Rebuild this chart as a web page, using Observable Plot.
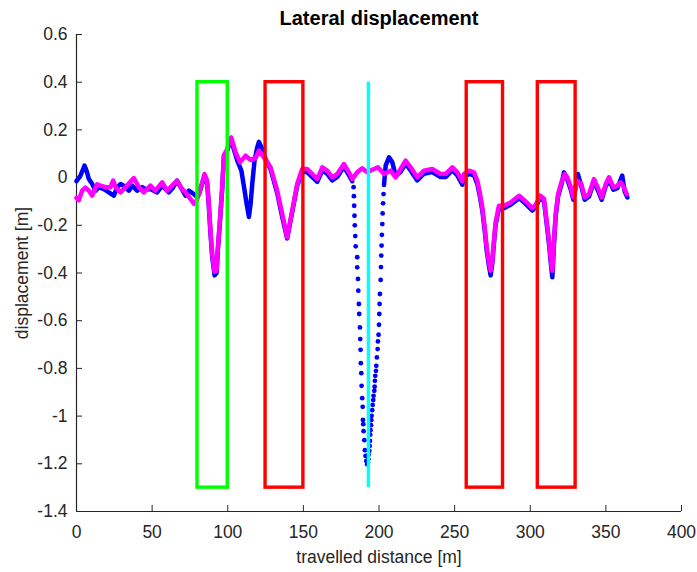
<!DOCTYPE html>
<html><head><meta charset="utf-8">
<script src="https://cdn.jsdelivr.net/npm/d3@7"></script>
<script src="https://cdn.jsdelivr.net/npm/@observablehq/plot@0.6"></script>
<style>body{margin:0;background:#fff}</style>
</head><body><div id="chart"></div>
<script>
const titleText = "Lateral displacement";
const xLabel = "travelled distance [m]";
const yLabel = "displacement [m]";
const xTicks = [0, 50, 100, 150, 200, 250, 300, 350, 400];
const yTicks = [-1.4, -1.2, -1, -0.8, -0.6, -0.4, -0.2, 0, 0.2, 0.4, 0.6];
const yTickLabels = ["-1.4", "-1.2", "-1", "-0.8", "-0.6", "-0.4", "-0.2", "0", "0.2", "0.4", "0.6"];

// magenta series (dense trace)
const magenta = [
  [0,-0.085],[1.5,-0.095],[3.7,-0.055],[5.9,-0.042],[8.2,-0.055],[10.4,-0.076],[12.6,-0.042],[13.7,-0.028],
  [15.9,-0.034],[19.2,-0.040],[22.5,-0.040],[24.3,-0.012],[25.8,-0.040],[29.1,-0.062],[32.4,-0.040],[35.3,-0.020],
  [37.9,-0.002],[41.2,-0.040],[44.5,-0.062],[48.9,-0.034],[52.2,-0.055],[56.6,-0.020],[59.9,-0.055],[63.2,-0.034],
  [66.5,-0.013],[68.7,-0.040],[72.1,-0.062],[75.4,-0.090],[77.6,-0.110],[79.5,-0.095],[80.9,-0.069],[84.6,0.015],
  [86.4,-0.013],[87.5,-0.111],[88.6,-0.223],[89.7,-0.320],[91.3,-0.395],[92.6,-0.390],[93.5,-0.292],[94.8,-0.181],
  [96.3,-0.041],[97.5,0.095],[99.2,0.113],[102.3,0.169],[105.2,0.106],[108.1,0.064],[111.8,0.092],[115.1,0.074],
  [118.4,0.082],[120.6,0.113],[123.9,0.085],[128.3,0.043],[132.7,-0.055],[136.0,-0.153],[139.3,-0.250],[142.6,-0.139],
  [145.9,-0.027],[149.2,0.036],[152.6,0.036],[155.9,0.015],[159.2,-0.006],[162.5,0.043],[165.8,0.029],[169.1,0.001],
  [172.4,0.015],[176.8,0.057],[180.1,0.022],[182.3,-0.006],[185.6,0.022],[188.9,0.039],[192.2,0.022],[195.5,0.033],
  [199.3,0.043],[203.3,0.015],[207.7,0.029],[211.0,0.001],[214.3,0.036],[217.6,0.071],[220.9,0.043],[225.3,0.001],
  [229.7,0.029],[235.2,0.036],[240.7,0.015],[244.0,0.015],[248.5,0.043],[251.8,0.022],[255.1,-0.015],[256.2,0.015],
  [259.5,0.029],[262.8,0.022],[265.0,-0.013],[266.8,-0.069],[268.3,-0.125],[269.9,-0.209],[271.2,-0.292],[272.7,-0.355],
  [273.8,-0.390],[274.9,-0.348],[276.0,-0.265],[277.1,-0.188],[279.3,-0.118],[282.6,-0.118],[287.0,-0.104],[292.6,-0.076],
  [297.0,-0.100],[301.3,-0.128],[303.6,-0.115],[306.5,-0.075],[309.1,-0.089],[310.8,-0.180],[312.4,-0.265],[313.9,-0.362],
  [314.6,-0.390],[315.7,-0.265],[316.8,-0.153],[318.4,-0.069],[320.6,-0.020],[322.8,0.015],[324.6,0.001],[326.8,-0.041],
  [328.5,-0.083],[331.2,-0.013],[333.8,-0.027],[336.0,-0.083],[338.9,-0.069],[342.1,-0.006],[345.5,-0.055],[347.2,-0.083],
  [349.9,-0.027],[352.1,0.001],[355.0,-0.041],[357.6,-0.034],[359.8,-0.020],[362.0,-0.041],[363.8,-0.070]
];

// blue series, trace before the big dip
const blueA = [
  [0,-0.015],[2.6,0.008],[4.4,0.036],[5.3,0.050],[6.6,0.029],[8.2,-0.006],[10.4,-0.027],[12.6,-0.055],
  [14.8,-0.040],[18.1,-0.048],[21.4,-0.062],[24.7,-0.076],[26.9,-0.040],[29.1,-0.027],[31.3,-0.034],[34.6,-0.055],
  [36.8,-0.034],[40.1,-0.055],[43.4,-0.040],[46.0,-0.050],[48.9,-0.048],[53.3,-0.062],[56.6,-0.034],[61.0,-0.062],
  [63.5,-0.045],[66.5,-0.013],[68.0,-0.030],[72.1,-0.076],[74.3,-0.055],[77.6,-0.069],[79.8,-0.082],[81.5,-0.060],
  [84.6,0.005],[86.4,-0.025],[87.5,-0.120],[88.6,-0.235],[89.7,-0.330],[91.3,-0.410],[92.6,-0.400],[93.5,-0.300],
  [94.8,-0.190],[96.3,-0.050],[97.5,0.090],[99.5,0.110],[101.5,0.150],[103.5,0.130],[106.3,0.071],[109.0,0.029],
  [110.8,-0.041],[112.5,-0.111],[114.0,-0.165],[115.1,-0.111],[116.2,-0.027],[117.7,0.071],[119.5,0.127],[120.6,0.150],
  [122.8,0.120],[125.0,0.078],[128.3,0.035],[132.7,-0.065],[136.0,-0.165],[139.3,-0.255],[142.6,-0.145],[145.9,-0.035],
  [149.2,0.025],[152.6,0.022],[155.9,0.002],[159.2,-0.018],[162.5,0.030],[165.8,0.016],[169.1,-0.012],[172.4,0.003],
  [176.8,0.045],[180.1,0.010],[182.3,-0.015]
];

// blue series, individual samples in the big dip
const blueDive = [
  [183.2,-0.040],[183.4,-0.078],[183.6,-0.118],[183.8,-0.160],[184.0,-0.200],[184.3,-0.245],[184.6,-0.288],
  [185.6,-0.334],[185.6,-0.376],[186.1,-0.425],[186.3,-0.474],[186.7,-0.530],[186.9,-0.572],[187.4,-0.628],
  [187.6,-0.677],[187.8,-0.722],[188.0,-0.778],[188.3,-0.820],[188.5,-0.873],[188.9,-0.925],[189.2,-0.961],
  [189.4,-1.016],[189.6,-1.034],[189.8,-1.063],[190.3,-1.101],[190.7,-1.143],[191.1,-1.167],[191.6,-1.188],
  [192.2,-1.202],[192.4,-1.198],
  [192.7,-1.195],[192.9,-1.181],[193.1,-1.162],[193.6,-1.146],[193.8,-1.125],[194.0,-1.104],[194.2,-1.078],
  [194.4,-1.059],[194.7,-1.038],[194.9,-1.017],[195.1,-0.999],[195.5,-0.975],[195.8,-0.953],[196.2,-0.933],
  [196.4,-0.915],[196.9,-0.894],[197.1,-0.877],[197.3,-0.852],[197.5,-0.831],[198.0,-0.810],[198.2,-0.789],
  [198.6,-0.754],[199.1,-0.719],[199.3,-0.687],[199.7,-0.659],[200.0,-0.617],[200.2,-0.572],[200.4,-0.530],
  [200.6,-0.488],[201.1,-0.429],[201.3,-0.375],[201.5,-0.327],[201.7,-0.285],[201.9,-0.240],[202.2,-0.195],
  [202.4,-0.150],[202.7,-0.108],[203.0,-0.069]
];

// blue series, trace after the big dip
const blueB = [
  [203.3,-0.031],[204.4,0.050],[206.6,0.085],[208.8,0.064],[211.0,0.008],[214.3,0.024],[217.6,0.058],[220.9,0.030],
  [225.3,-0.012],[229.7,0.016],[235.2,0.023],[240.7,0.002],[244.0,0.002],[248.5,0.030],[251.8,0.009],[255.1,-0.030],
  [256.2,0.002],[259.5,0.016],[262.8,0.009],[265.0,-0.026],[266.8,-0.082],[268.3,-0.138],[269.9,-0.222],[271.2,-0.305],
  [272.7,-0.370],[273.8,-0.410],[274.9,-0.360],[276.0,-0.275],[277.1,-0.198],[279.3,-0.128],[282.6,-0.128],[287.0,-0.114],
  [292.6,-0.086],[297.0,-0.110],[301.3,-0.138],[303.6,-0.125],[306.5,-0.085],[309.1,-0.099],[310.8,-0.190],[312.4,-0.278],
  [313.9,-0.378],[314.6,-0.418],[315.7,-0.278],[316.8,-0.163],[318.4,-0.079],[320.6,-0.030],[322.3,0.022],[324.6,-0.009],
  [326.8,-0.051],[328.5,-0.093],[331.5,0.015],[333.8,-0.037],[336.0,-0.093],[338.9,-0.079],[342.1,-0.016],[345.5,-0.065],
  [347.2,-0.093],[349.9,-0.037],[352.1,-0.009],[355.0,-0.051],[357.6,-0.044],[360.8,0.008],[362.5,-0.060],[364.2,-0.083]
];

// highlighted sections
const boxX1 = [80, 125, 258, 305];
const boxX2 = [100, 150, 282, 330];
const boxColors = ["#00ff00", "#ff0000", "#ff0000", "#ff0000"];
const boxTop = 0.4, boxBottom = -1.3;
const markerX = [193];

const rows = a => a.map(([x, y]) => ({x, y}));
const boxes = boxX1.map((x1, i) => ({x1, x2: boxX2[i], y1: boxBottom, y2: boxTop, c: boxColors[i]}));

const W = 697, H = 572, mL = 76, mR = 16, mT = 34, mB = 61;
const fw = W - mL - mR, fh = H - mT - mB;
const ink = "#262626";
const font = "'Liberation Sans', Arial, Helvetica, sans-serif";

const chart = Plot.plot({
  width: W, height: H,
  marginLeft: mL, marginRight: mR, marginTop: mT, marginBottom: mB,
  style: {fontFamily: font, fontSize: "17.5px", background: "#fff", color: ink},
  x: {domain: [0, 400], label: null},
  y: {domain: [-1.4, 0.6], label: null},
  marks: [
    Plot.axisX({ticks: xTicks, tickSize: 0, tickPadding: 14, label: null, fontSize: 17.5, fill: ink, tickFormat: d => String(d)}),
    Plot.axisY({ticks: yTicks, tickSize: 0, tickPadding: 9, label: null, fontSize: 17.5, fill: ink,
      tickFormat: d => yTickLabels[yTicks.indexOf(d)]}),
    Plot.tickX(xTicks, {x: d => d, insetTop: fh - 6, stroke: ink, strokeWidth: 1}),
    Plot.tickY(yTicks, {y: d => d, insetRight: fw - 6, stroke: ink, strokeWidth: 1}),
    Plot.ruleY([-1.4], {stroke: ink, strokeWidth: 1.2}),
    Plot.ruleX([0], {stroke: ink, strokeWidth: 1.2}),
    // blue series
    Plot.line(rows(blueA), {x: "x", y: "y", stroke: "#0000ff", strokeWidth: 4.5, strokeLinejoin: "round", strokeLinecap: "round"}),
    Plot.line(rows(blueB), {x: "x", y: "y", stroke: "#0000ff", strokeWidth: 4.5, strokeLinejoin: "round", strokeLinecap: "round"}),
    Plot.dot(rows(blueDive), {x: "x", y: "y", r: 2.4, fill: "#0000ff", stroke: "none"}),
    // magenta series
    Plot.line(rows(magenta), {x: "x", y: "y", stroke: "#ff00ff", strokeWidth: 4.5, strokeLinejoin: "round", strokeLinecap: "round"}),
    // boxes and marker line
    Plot.rect(boxes, {x1: "x1", x2: "x2", y1: "y1", y2: "y2", stroke: "c", fill: "none", strokeWidth: 3.4}),
    Plot.ruleX(markerX, {x: d => d, y1: boxBottom, y2: boxTop, stroke: "#00ffff", strokeWidth: 3.4}),
    // texts
    Plot.text([titleText], {text: d => d, frameAnchor: "top", dy: -16, lineAnchor: "middle", textAnchor: "middle",
      fontWeight: "bold", fontSize: 20, fill: "#000"}),
    Plot.text([yLabel], {text: d => d, frameAnchor: "left", dx: -54, rotate: -90, lineAnchor: "middle", textAnchor: "middle",
      fontSize: 17.5, fill: ink}),
    Plot.text([xLabel], {text: d => d, frameAnchor: "bottom", dy: 46, lineAnchor: "middle", textAnchor: "middle",
      fontSize: 17.5, fill: ink})
  ]
});
document.getElementById("chart").appendChild(chart);
</script>
</body></html>
